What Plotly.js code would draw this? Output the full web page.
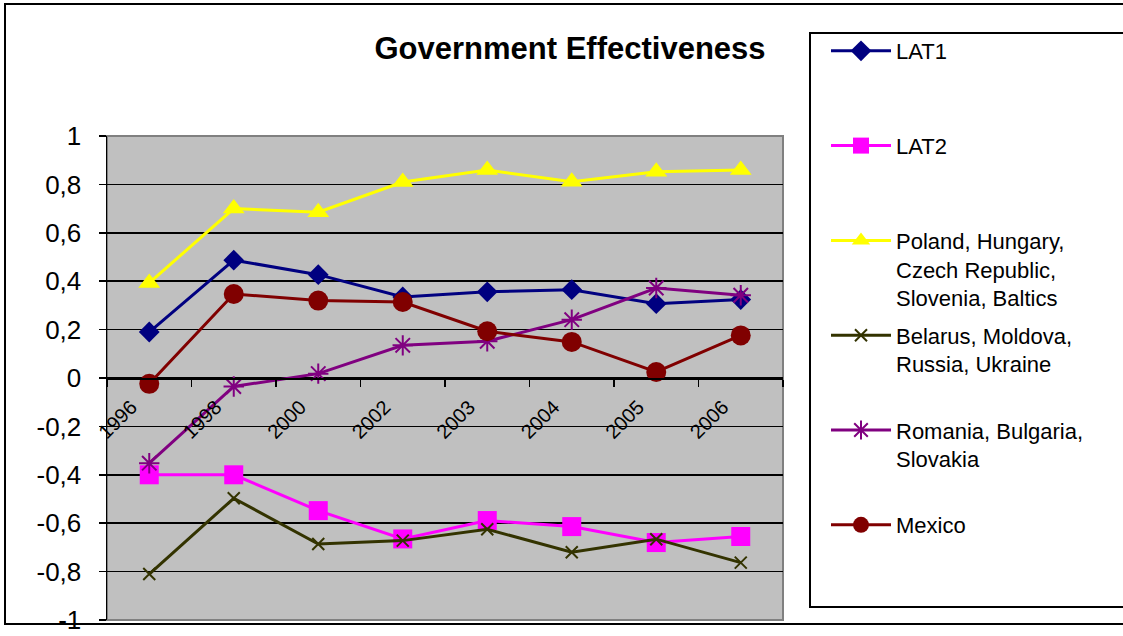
<!DOCTYPE html>
<html>
<head>
<meta charset="utf-8">
<script src="https://cdn.plot.ly/plotly-3.0.1.min.js"></script>
<style>
  html, body { margin: 0; padding: 0; background: #ffffff; }
  #chart { width: 1123px; height: 636px; }
</style>
</head>
<body>
<div id="chart"></div>
<script>
// Government Effectiveness index by country group, 1996-2006
const years = ['1996', '1998', '2000', '2002', '2003', '2004', '2005', '2006'];

const lat1            = [0.19, 0.487, 0.427, 0.335, 0.356, 0.365, 0.307, 0.324];
const lat2            = [-0.40, -0.40, -0.548, -0.665, -0.589, -0.614, -0.68, -0.655];
const centralEurope   = [0.393, 0.70, 0.685, 0.81, 0.859, 0.811, 0.852, 0.859];
const easternEurope   = [-0.81, -0.497, -0.686, -0.672, -0.625, -0.72, -0.666, -0.763];
const southEastEurope = [-0.352, -0.035, 0.018, 0.135, 0.152, 0.241, 0.372, 0.342];
const mexico          = [-0.024, 0.347, 0.32, 0.314, 0.193, 0.149, 0.025, 0.176];

const seriesNames = [
  'LAT1',
  'LAT2',
  'Poland, Hungary,<br>Czech Republic,<br>Slovenia, Baltics',
  'Belarus, Moldova,<br>Russia, Ukraine',
  'Romania, Bulgaria,<br>Slovakia',
  'Mexico'
];

const yTickVals = [-1, -0.8, -0.6, -0.4, -0.2, 0, 0.2, 0.4, 0.6, 0.8, 1];
const yTickText = ['-1', '-0,8', '-0,6', '-0,4', '-0,2', '0', '0,2', '0,4', '0,6', '0,8', '1'];

// every legend entry gets the same three-line slot
function slot(name) {
  const lines = name.split('<br>').length;
  let out = name;
  for (let i = lines; i < 3; i++) out += '<br>&nbsp;';
  return out;
}

function series(y, name, color, symbol, size, open) {
  return {
    type: 'scatter',
    mode: 'lines+markers',
    x: years,
    y: y,
    name: slot(name),
    legendgroup: name,
    line: { color: color, width: 3 },
    marker: open
      ? { symbol: symbol, size: size, color: color, line: { color: color, width: 2 } }
      : { symbol: symbol, size: size, color: color, line: { width: 0 } },
    hoverinfo: 'x+y'
  };
}

const traces = [
  series(lat1, seriesNames[0], '#000080', 'diamond', 16, false),
  series(lat2, seriesNames[1], '#FF00FF', 'square', 19, false),
  series(centralEurope, seriesNames[2], '#FFFF00', 'triangle-up', 19, false),
  series(easternEurope, seriesNames[3], '#333300', 'x-thin-open', 12, true),
  series(southEastEurope, seriesNames[4], '#800080', 'asterisk-open', 17, true),
  series(mexico, seriesNames[5], '#800000', 'circle', 20, false)
];

const W = 1123, H = 636;
const font = 'Liberation Sans, Arial, sans-serif';

const layout = {
  width: W,
  height: H,
  margin: { l: 107, r: 340, t: 136, b: 16 },
  paper_bgcolor: '#ffffff',
  plot_bgcolor: '#C0C0C0',
  font: { family: font, color: '#000000', size: 20 },
  showlegend: true,
  title: {
    text: '<b>Government Effectiveness</b>',
    font: { family: font, size: 31, color: '#000000' },
    xref: 'container', yref: 'container',
    x: 570 / W, y: 1 - 48 / H,
    xanchor: 'center', yanchor: 'middle'
  },
  xaxis: {
    type: 'category',
    range: [-0.5, 7.5],
    anchor: 'free',
    position: 0.5,
    showline: true,
    linecolor: '#000000',
    linewidth: 1.5,
    ticks: 'outside',
    tickson: 'boundaries',
    ticklen: 7,
    tickwidth: 1.5,
    tickcolor: '#000000',
    tickangle: -45,
    tickfont: { family: font, size: 20, color: '#000000' },
    ticklabelstandoff: 8,
    ticklabelshift: -18,
    showgrid: false,
    zeroline: false,
    fixedrange: true
  },
  yaxis: {
    range: [-1, 1],
    tickmode: 'array',
    tickvals: yTickVals,
    ticktext: yTickText,
    showline: true,
    linecolor: '#000000',
    linewidth: 1.5,
    ticks: 'outside',
    ticklen: 7,
    tickwidth: 1.5,
    tickcolor: '#000000',
    tickfont: { family: font, size: 26, color: '#000000' },
    ticklabelstandoff: 12,
    showgrid: true,
    gridcolor: '#000000',
    gridwidth: 1.5,
    zeroline: false,
    fixedrange: true
  },
  legend: {
    xref: 'container', yref: 'container',
    x: 826 / W, y: 1 - 30 / H,
    xanchor: 'left', yanchor: 'top',
    bgcolor: 'rgba(0,0,0,0)',
    borderwidth: 0,
    font: { family: font, size: 22, color: '#000000' },
    traceorder: 'grouped',
    tracegroupgap: 6,
    valign: 'top',
    itemwidth: 60,
    maxheight: 620
  },
  shapes: [
    // outer chart frame
    { type: 'rect', xref: 'paper', yref: 'paper', layer: 'below',
      x0: (5 - 107) / 676, x1: (1130 - 107) / 676,
      y0: (16 - 20) / 484, y1: 1 + (136 - 4) / 484,
      line: { color: '#000000', width: 2 }, fillcolor: 'rgba(0,0,0,0)' },
    // plot area border
    { type: 'rect', xref: 'paper', yref: 'paper', layer: 'below',
      x0: 0, x1: 1, y0: 0, y1: 1,
      line: { color: '#808080', width: 2 }, fillcolor: 'rgba(0,0,0,0)' },
    // legend frame
    { type: 'rect', xref: 'paper', yref: 'paper', layer: 'below',
      x0: (810 - 107) / 676, x1: (1135 - 107) / 676,
      y0: (620 - 607) / 484, y1: (620 - 33) / 484,
      line: { color: '#000000', width: 2 }, fillcolor: 'rgba(0,0,0,0)' }
  ]
};

Plotly.newPlot('chart', traces, layout, { displayModeBar: false, staticPlot: true });
</script>
</body>
</html>
